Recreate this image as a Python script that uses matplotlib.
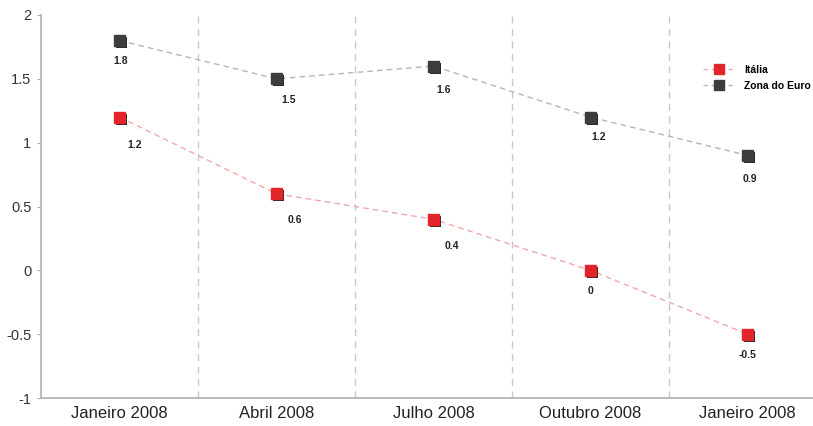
import matplotlib
matplotlib.use("Agg")
import matplotlib.pyplot as plt
import matplotlib.patheffects as pe
from matplotlib.lines import Line2D

categories = ["Janeiro 2008", "Abril 2008", "Julho 2008", "Outubro 2008", "Janeiro 2008"]
italia = [1.2, 0.6, 0.4, 0.0, -0.5]
zona_euro = [1.8, 1.5, 1.6, 1.2, 0.9]
italia_labels = ["1.2", "0.6", "0.4", "0", "-0.5"]
euro_labels = ["1.8", "1.5", "1.6", "1.2", "0.9"]

# label offsets in points (dx, dy)
italia_off = [(11, -20), (13, -19), (13, -19), (0, -15), (0, -15)]
euro_off = [(1, -15), (9, -15), (7, -17), (6, -14), (2, -17)]

RED = "#e3242b"
DARK = "#3d3d3d"

plt.rcParams["font.family"] = ["Liberation Sans", "DejaVu Sans"]

fig = plt.figure(figsize=(8.13, 4.26), dpi=100)
ax = fig.add_axes([41 / 813, 28 / 426, 1 - 41 / 813, (398 - 15) / 426])

x = [i + 0.5 for i in range(len(categories))]

for i in range(1, len(categories)):
    ax.axvline(i, color="#c8c8c8", lw=1.0, ls=(0, (5, 4)), zorder=1)

shadow = [pe.SimplePatchShadow(offset=(1.5, -1.5), shadow_rgbFace="#111111", alpha=0.9), pe.Normal()]

ax.plot(x, italia, color="#f2a8aa", lw=1.0, ls=(0, (4, 3)), zorder=2)
ax.plot(x, italia, ls="none", marker="s", ms=8, mfc=RED, mec=RED, zorder=3,
        path_effects=shadow)
ax.plot(x, zona_euro, color="#b5b5b5", lw=1.0, ls=(0, (4, 3)), zorder=2)
ax.plot(x, zona_euro, ls="none", marker="s", ms=8, mfc=DARK, mec=DARK, zorder=3,
        path_effects=shadow)

for xi, v, t, off in zip(x, italia, italia_labels, italia_off):
    ax.annotate(t, (xi, v), xytext=off, textcoords="offset points", ha="center", va="center",
                fontsize=7.5, fontweight="bold", color="#222222")
for xi, v, t, off in zip(x, zona_euro, euro_labels, euro_off):
    ax.annotate(t, (xi, v), xytext=off, textcoords="offset points", ha="center", va="center",
                fontsize=7.5, fontweight="bold", color="#222222")

ax.set_xlim(0, 772 / 157)
ax.set_ylim(-1, 2)
ax.set_yticks([-1, -0.5, 0, 0.5, 1, 1.5, 2])
ax.set_yticklabels(["-1", "-0.5", "0", "0.5", "1", "1.5", "2"])
ax.set_xticks(x)
ax.set_xticklabels(categories, fontsize=12, color="#222222")
ax.tick_params(axis="y", labelsize=10.5, length=3, color="#aaaaaa", pad=4, labelcolor="#333333")
ax.tick_params(axis="x", length=0, pad=6)

for s in ("top", "right"):
    ax.spines[s].set_visible(False)
for s in ("left", "bottom"):
    ax.spines[s].set_color("#b0b0b0")
    ax.spines[s].set_linewidth(1.2)

handles = [
    Line2D([0], [0], color="#f2a8aa", ls=(0, (3, 3)), lw=1.0, marker="s", ms=7, mfc=RED, mec=RED),
    Line2D([0], [0], color="#b5b5b5", ls=(0, (3, 3)), lw=1.0, marker="s", ms=7, mfc=DARK, mec=DARK),
]
ax.legend(handles, ["Itália", "Zona do Euro"], loc="upper left", bbox_to_anchor=(0.845, 0.895),
          frameon=False, prop={"size": 7.5, "weight": "bold"}, handlelength=3.2, labelspacing=0.6)

fig.savefig("out.png", dpi=100)
